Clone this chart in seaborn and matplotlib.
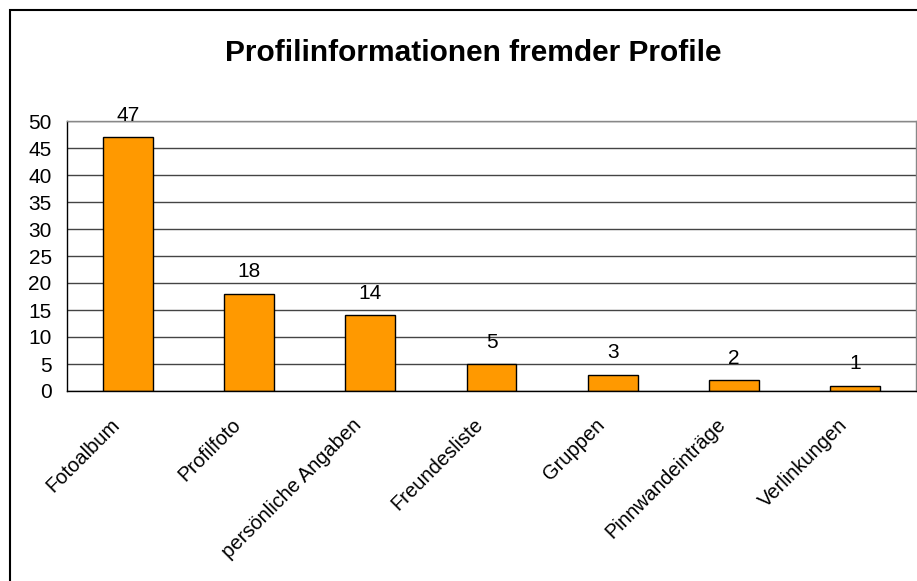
import matplotlib
matplotlib.use("Agg")
import matplotlib.pyplot as plt
import matplotlib.patches as patches
from matplotlib.transforms import ScaledTranslation
import seaborn as sns
import numpy as np
import pandas as pd

sns.set_style("white")
plt.rcParams['font.family'] = ['Liberation Sans', 'DejaVu Sans']
plt.rcParams['text.color'] = 'black'
plt.rcParams['xtick.color'] = 'black'
plt.rcParams['ytick.color'] = 'black'

categories = ['Fotoalbum', 'Profilfoto', 'persönliche Angaben', 'Freundesliste',
              'Gruppen', 'Pinnwandeinträge', 'Verlinkungen']
values = [47, 18, 14, 5, 3, 2, 1]
title = 'Profilinformationen fremder Profile'

df = pd.DataFrame({'Kategorie': categories, 'Anzahl': values})

fig = plt.figure(figsize=(9.17, 5.81), dpi=100)
ax = fig.add_axes([67 / 917, 1 - 391 / 581, (916 - 67) / 917, 270 / 581])

sns.barplot(data=df, x='Kategorie', y='Anzahl', order=categories, color='#FF9900',
            saturation=1, edgecolor='black', linewidth=1, width=0.41, ax=ax)

ax.bar_label(ax.containers[0], fmt='%d', padding=9, fontsize=15, color='black')

ax.set_ylim(0, 50)
ax.set_xlim(-0.5, len(categories) - 0.5)
ax.set_yticks(np.arange(0, 51, 5))
ax.yaxis.grid(True, color='#444444', linewidth=1)
ax.set_axisbelow(True)
ax.set_xlabel('')
ax.set_ylabel('')

# category boundary ticks
ax.set_xticks(np.arange(-0.5, len(categories), 1), minor=True)
ax.tick_params(axis='x', which='minor', length=6, width=1, color='black', direction='out')
ax.tick_params(axis='x', which='major', length=0, pad=0)
ax.tick_params(axis='y', length=6, width=1, color='black', direction='out', labelsize=15, pad=5)
ax.set_xticks(range(len(categories)))
ax.set_xticklabels(categories, rotation=45, ha='right', rotation_mode='anchor', fontsize=14.5)
shift = ScaledTranslation(-18 / 100, -24 / 100, fig.dpi_scale_trans)
for lbl in ax.get_xticklabels():
    lbl.set_transform(lbl.get_transform() + shift)

for side in ['left', 'bottom']:
    ax.spines[side].set_color('black')
    ax.spines[side].set_linewidth(1)
for side in ['top', 'right']:
    ax.spines[side].set_visible(True)
    ax.spines[side].set_color('#888888')
    ax.spines[side].set_linewidth(1)

fig.text(473 / 917, 1 - 53 / 581, title, ha='center', va='center',
         fontsize=21.5, fontweight='bold')

# chart border (continues past right and bottom edges)
fig.patches.append(patches.Rectangle((10 / 917, -0.2), 1.2, 1.2 - 10 / 581,
                                     transform=fig.transFigure, fill=False,
                                     edgecolor='black', linewidth=1.5))

fig.savefig('out.png', dpi=100)
